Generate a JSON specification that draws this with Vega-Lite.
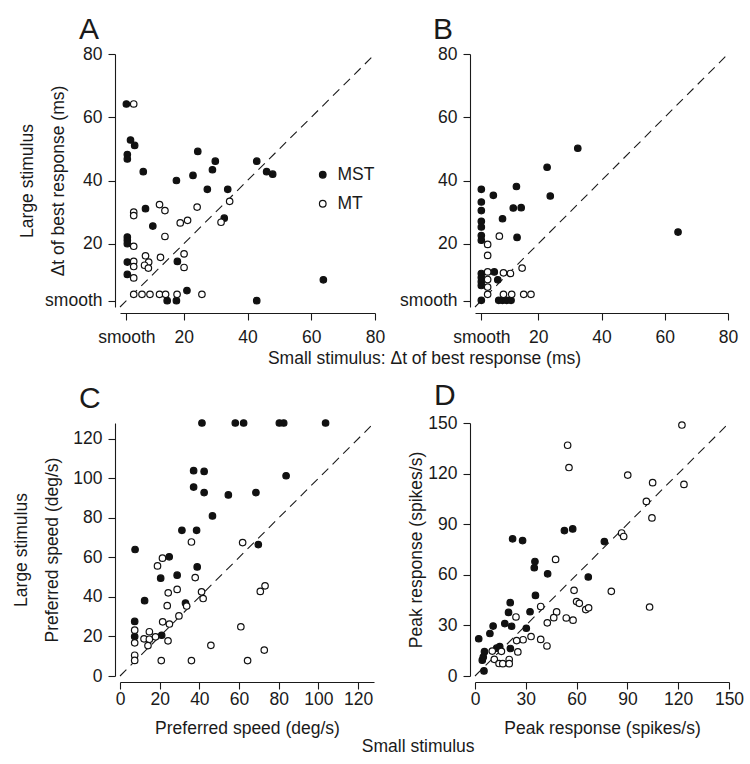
{
  "$schema": "https://vega.github.io/schema/vega-lite/v6.json",
  "padding": {"left": 12, "top": 15, "right": 5, "bottom": 5},
  "background": "white",
  "config": {
    "font": "Liberation Sans",
    "view": {"stroke": null},
    "axis": {"grid": false, "domainColor": "#1a1a1a", "tickColor": "#1a1a1a", "labelColor": "#1a1a1a", "titleColor": "#1a1a1a", "labelFontSize": 17.5, "titleFontSize": 17.5, "titleFontWeight": "normal", "tickSize": 7, "labelPadding": 4, "domainWidth": 1.1, "tickWidth": 1.1, "labelOverlap": false, "labelBound": false, "labelFlush": false},
    "axisX": {"offset": 6},
    "axisY": {"offset": 5, "labelPadding": 6},
    "title": {"fontWeight": "normal", "color": "#1a1a1a"},
    "legend": {"labelFontSize": 17.5, "labelColor": "#1a1a1a"}
  },
  "datasets": {
    "A": [
      {"area": "MST", "small": 2.0, "large": 64.2}, {"area": "MST", "small": 3.3, "large": 52.8}, {"area": "MST", "small": 4.6, "large": 51.1},
      {"area": "MST", "small": 2.3, "large": 48.2}, {"area": "MST", "small": 2.3, "large": 46.8}, {"area": "MST", "small": 7.3, "large": 42.8},
      {"area": "MST", "small": 17.7, "large": 40.0}, {"area": "MST", "small": 24.4, "large": 49.2}, {"area": "MST", "small": 29.9, "large": 46.1},
      {"area": "MST", "small": 29.0, "large": 43.4}, {"area": "MST", "small": 22.9, "large": 41.6}, {"area": "MST", "small": 42.9, "large": 46.1},
      {"area": "MST", "small": 46.0, "large": 42.8}, {"area": "MST", "small": 47.9, "large": 42.0}, {"area": "MST", "small": 27.4, "large": 37.2},
      {"area": "MST", "small": 33.8, "large": 37.2}, {"area": "MST", "small": 8.0, "large": 31.1}, {"area": "MST", "small": 10.3, "large": 25.6},
      {"area": "MST", "small": 32.7, "large": 28.1}, {"area": "MST", "small": 2.3, "large": 22.1}, {"area": "MST", "small": 2.3, "large": 21.1},
      {"area": "MST", "small": 2.3, "large": 20.0}, {"area": "MST", "small": 2.3, "large": 14.2}, {"area": "MST", "small": 2.3, "large": 10.3},
      {"area": "MST", "small": 18.0, "large": 14.4}, {"area": "MST", "small": 21.0, "large": 5.2}, {"area": "MST", "small": 14.8, "large": 2.0},
      {"area": "MST", "small": 17.7, "large": 2.0}, {"area": "MST", "small": 42.9, "large": 2.0}, {"area": "MST", "small": 63.8, "large": 8.6},
      {"area": "MT", "small": 4.3, "large": 64.2}, {"area": "MT", "small": 4.3, "large": 30.0}, {"area": "MT", "small": 4.3, "large": 28.9},
      {"area": "MT", "small": 12.4, "large": 32.4}, {"area": "MT", "small": 14.1, "large": 30.5}, {"area": "MT", "small": 24.2, "large": 31.6},
      {"area": "MT", "small": 34.4, "large": 33.4}, {"area": "MT", "small": 18.9, "large": 26.6}, {"area": "MT", "small": 21.2, "large": 27.4},
      {"area": "MT", "small": 31.7, "large": 26.8}, {"area": "MT", "small": 14.1, "large": 22.3}, {"area": "MT", "small": 4.3, "large": 19.2},
      {"area": "MT", "small": 4.3, "large": 14.4}, {"area": "MT", "small": 4.3, "large": 12.8}, {"area": "MT", "small": 4.3, "large": 9.2},
      {"area": "MT", "small": 8.0, "large": 16.2}, {"area": "MT", "small": 9.0, "large": 14.2}, {"area": "MT", "small": 7.7, "large": 13.2},
      {"area": "MT", "small": 8.9, "large": 12.3}, {"area": "MT", "small": 12.7, "large": 15.7}, {"area": "MT", "small": 20.1, "large": 16.8},
      {"area": "MT", "small": 20.1, "large": 12.5}, {"area": "MT", "small": 4.3, "large": 4.0}, {"area": "MT", "small": 6.9, "large": 4.0},
      {"area": "MT", "small": 9.4, "large": 4.0}, {"area": "MT", "small": 12.4, "large": 4.0}, {"area": "MT", "small": 14.3, "large": 4.0},
      {"area": "MT", "small": 17.9, "large": 4.0}, {"area": "MT", "small": 25.7, "large": 4.0}
    ],
    "B": [
      {"area": "MST", "small": 2.0, "large": 37.2}, {"area": "MST", "small": 2.0, "large": 33.2}, {"area": "MST", "small": 2.0, "large": 30.5},
      {"area": "MST", "small": 2.0, "large": 27.1}, {"area": "MST", "small": 2.0, "large": 25.3}, {"area": "MST", "small": 2.0, "large": 22.6},
      {"area": "MST", "small": 2.0, "large": 21.1}, {"area": "MST", "small": 5.8, "large": 35.3}, {"area": "MST", "small": 13.1, "large": 38.1},
      {"area": "MST", "small": 8.7, "large": 27.9}, {"area": "MST", "small": 12.1, "large": 31.3}, {"area": "MST", "small": 14.6, "large": 31.4},
      {"area": "MST", "small": 13.3, "large": 22.0}, {"area": "MST", "small": 22.8, "large": 44.2}, {"area": "MST", "small": 23.8, "large": 35.1},
      {"area": "MST", "small": 32.5, "large": 50.2}, {"area": "MST", "small": 64.2, "large": 23.7}, {"area": "MST", "small": 2.0, "large": 10.6},
      {"area": "MST", "small": 2.0, "large": 9.3}, {"area": "MST", "small": 2.0, "large": 8.0}, {"area": "MST", "small": 2.0, "large": 6.8},
      {"area": "MST", "small": 6.1, "large": 11.1}, {"area": "MST", "small": 7.2, "large": 8.6}, {"area": "MST", "small": 2.0, "large": 2.1},
      {"area": "MST", "small": 7.5, "large": 2.1}, {"area": "MST", "small": 8.7, "large": 2.1}, {"area": "MST", "small": 10.0, "large": 2.1},
      {"area": "MST", "small": 11.4, "large": 2.1},
      {"area": "MT", "small": 7.7, "large": 22.4}, {"area": "MT", "small": 4.0, "large": 19.8}, {"area": "MT", "small": 4.0, "large": 16.3},
      {"area": "MT", "small": 14.9, "large": 12.3}, {"area": "MT", "small": 9.0, "large": 10.8}, {"area": "MT", "small": 11.2, "large": 10.6},
      {"area": "MT", "small": 4.0, "large": 11.1}, {"area": "MT", "small": 4.0, "large": 8.7}, {"area": "MT", "small": 4.0, "large": 6.3},
      {"area": "MT", "small": 4.0, "large": 4.0}, {"area": "MT", "small": 9.0, "large": 4.0}, {"area": "MT", "small": 11.6, "large": 4.0},
      {"area": "MT", "small": 15.4, "large": 4.0}, {"area": "MT", "small": 17.7, "large": 4.0}
    ],
    "C": [
      {"area": "MST", "small": 41.3, "large": 128}, {"area": "MST", "small": 58.1, "large": 128}, {"area": "MST", "small": 62.3, "large": 128},
      {"area": "MST", "small": 80.3, "large": 128}, {"area": "MST", "small": 82.5, "large": 128}, {"area": "MST", "small": 103.6, "large": 128},
      {"area": "MST", "small": 37.1, "large": 103.9}, {"area": "MST", "small": 42.4, "large": 103.5}, {"area": "MST", "small": 37.1, "large": 95.6},
      {"area": "MST", "small": 42.4, "large": 92.8}, {"area": "MST", "small": 54.6, "large": 91.6}, {"area": "MST", "small": 68.5, "large": 92.8},
      {"area": "MST", "small": 83.7, "large": 101.3}, {"area": "MST", "small": 46.6, "large": 81.0}, {"area": "MST", "small": 31.2, "large": 73.7},
      {"area": "MST", "small": 38.6, "large": 73.7}, {"area": "MST", "small": 7.6, "large": 64.0}, {"area": "MST", "small": 24.8, "large": 60.3},
      {"area": "MST", "small": 38.9, "large": 55.2}, {"area": "MST", "small": 28.8, "large": 51.0}, {"area": "MST", "small": 20.5, "large": 49.5},
      {"area": "MST", "small": 69.7, "large": 66.5}, {"area": "MST", "small": 12.4, "large": 38.1}, {"area": "MST", "small": 33.0, "large": 36.9},
      {"area": "MST", "small": 7.4, "large": 27.6}, {"area": "MST", "small": 7.4, "large": 20.0}, {"area": "MST", "small": 21.0, "large": 20.6},
      {"area": "MT", "small": 36.0, "large": 67.8}, {"area": "MT", "small": 61.8, "large": 67.5}, {"area": "MT", "small": 21.4, "large": 59.6},
      {"area": "MT", "small": 18.9, "large": 55.7}, {"area": "MT", "small": 37.9, "large": 49.8}, {"area": "MT", "small": 24.3, "large": 42.1},
      {"area": "MT", "small": 28.8, "large": 43.8}, {"area": "MT", "small": 41.1, "large": 42.6}, {"area": "MT", "small": 41.9, "large": 39.2},
      {"area": "MT", "small": 70.7, "large": 42.8}, {"area": "MT", "small": 73.1, "large": 45.6}, {"area": "MT", "small": 23.8, "large": 35.6},
      {"area": "MT", "small": 33.6, "large": 35.4}, {"area": "MT", "small": 29.7, "large": 30.4}, {"area": "MT", "small": 21.5, "large": 27.4},
      {"area": "MT", "small": 24.9, "large": 26.3}, {"area": "MT", "small": 60.9, "large": 24.9}, {"area": "MT", "small": 7.4, "large": 23.2},
      {"area": "MT", "small": 14.8, "large": 22.4}, {"area": "MT", "small": 12.1, "large": 18.8}, {"area": "MT", "small": 14.8, "large": 18.6},
      {"area": "MT", "small": 17.9, "large": 19.8}, {"area": "MT", "small": 7.4, "large": 16.8}, {"area": "MT", "small": 14.1, "large": 15.4},
      {"area": "MT", "small": 24.2, "large": 17.8}, {"area": "MT", "small": 45.8, "large": 15.5}, {"area": "MT", "small": 72.7, "large": 13.1},
      {"area": "MT", "small": 7.4, "large": 10.5}, {"area": "MT", "small": 7.4, "large": 7.9}, {"area": "MT", "small": 20.8, "large": 7.8},
      {"area": "MT", "small": 36.0, "large": 7.8}, {"area": "MT", "small": 64.3, "large": 7.8}
    ],
    "D": [
      {"area": "MST", "small": 22.2, "large": 81.3}, {"area": "MST", "small": 28.1, "large": 80.3}, {"area": "MST", "small": 52.8, "large": 86.2},
      {"area": "MST", "small": 57.7, "large": 87.2}, {"area": "MST", "small": 76.4, "large": 79.7}, {"area": "MST", "small": 35.4, "large": 67.9},
      {"area": "MST", "small": 35.0, "large": 64.2}, {"area": "MST", "small": 42.9, "large": 60.6}, {"area": "MST", "small": 66.9, "large": 58.7},
      {"area": "MST", "small": 35.7, "large": 47.8}, {"area": "MST", "small": 20.8, "large": 43.5}, {"area": "MST", "small": 19.8, "large": 37.7},
      {"area": "MST", "small": 32.5, "large": 38.1}, {"area": "MST", "small": 10.7, "large": 29.6}, {"area": "MST", "small": 17.6, "large": 31.1},
      {"area": "MST", "small": 21.6, "large": 29.5}, {"area": "MST", "small": 8.8, "large": 25.2}, {"area": "MST", "small": 30.3, "large": 28.3},
      {"area": "MST", "small": 2.2, "large": 22.1}, {"area": "MST", "small": 5.6, "large": 14.4}, {"area": "MST", "small": 4.3, "large": 9.4},
      {"area": "MST", "small": 4.9, "large": 11.2}, {"area": "MST", "small": 12.8, "large": 16.5}, {"area": "MST", "small": 14.6, "large": 17.4},
      {"area": "MST", "small": 20.9, "large": 16.3}, {"area": "MST", "small": 5.3, "large": 3.0},
      {"area": "MT", "small": 54.7, "large": 136.8}, {"area": "MT", "small": 55.5, "large": 123.6}, {"area": "MT", "small": 122.2, "large": 148.8},
      {"area": "MT", "small": 90.2, "large": 119.1}, {"area": "MT", "small": 104.9, "large": 114.6}, {"area": "MT", "small": 123.4, "large": 113.6},
      {"area": "MT", "small": 101.2, "large": 103.5}, {"area": "MT", "small": 104.5, "large": 93.7}, {"area": "MT", "small": 86.6, "large": 84.8},
      {"area": "MT", "small": 87.8, "large": 82.7}, {"area": "MT", "small": 47.6, "large": 69.1}, {"area": "MT", "small": 58.5, "large": 50.8},
      {"area": "MT", "small": 80.5, "large": 50.2}, {"area": "MT", "small": 60.0, "large": 44.1}, {"area": "MT", "small": 61.6, "large": 43.1},
      {"area": "MT", "small": 65.4, "large": 39.4}, {"area": "MT", "small": 67.1, "large": 40.4}, {"area": "MT", "small": 38.8, "large": 41.2},
      {"area": "MT", "small": 24.2, "large": 35.0}, {"area": "MT", "small": 48.2, "large": 38.0}, {"area": "MT", "small": 46.5, "large": 34.6},
      {"area": "MT", "small": 53.9, "large": 34.4}, {"area": "MT", "small": 57.9, "large": 33.1}, {"area": "MT", "small": 103.1, "large": 40.9},
      {"area": "MT", "small": 42.7, "large": 31.5}, {"area": "MT", "small": 33.1, "large": 23.4}, {"area": "MT", "small": 38.8, "large": 21.7},
      {"area": "MT", "small": 42.5, "large": 17.8}, {"area": "MT", "small": 28.4, "large": 21.5}, {"area": "MT", "small": 24.6, "large": 21.0},
      {"area": "MT", "small": 25.3, "large": 14.3}, {"area": "MT", "small": 10.2, "large": 14.8}, {"area": "MT", "small": 15.6, "large": 14.6},
      {"area": "MT", "small": 11.4, "large": 9.9}, {"area": "MT", "small": 14.2, "large": 7.4}, {"area": "MT", "small": 16.4, "large": 7.3},
      {"area": "MT", "small": 20.2, "large": 9.8}, {"area": "MT", "small": 20.2, "large": 7.3}
    ]
  },
  "title": {"text": "Small stimulus", "orient": "bottom", "anchor": "middle", "fontSize": 17.5, "offset": 1, "dx": 40},
  "columns": 2,
  "bounds": "flush",
  "spacing": {"row": 116, "column": 100},
  "resolve": {"scale": {"fill": "independent"}, "legend": {"fill": "independent"}},
  "concat": [
    {
      "width": 255, "height": 253,
      "title": {"text": "A", "anchor": "start", "frame": "group", "dx": -41, "fontSize": 30, "offset": 0},
      "layer": [
        {"data": {"values": [{"lo": 0, "hi": 80}]},
         "mark": {"type": "rule", "strokeDash": [9, 6], "strokeWidth": 1.1, "color": "#1a1a1a"},
         "encoding": {"x": {"field": "lo", "type": "quantitative"}, "y": {"field": "lo", "type": "quantitative"}, "x2": {"field": "hi"}, "y2": {"field": "hi"}}},
        {"data": {"name": "A"},
         "mark": {"type": "point", "shape": "circle", "filled": true, "stroke": "#111", "strokeWidth": 1.2, "size": 42, "opacity": 1},
         "encoding": {
           "x": {"field": "small", "type": "quantitative", "scale": {"domain": [0, 80], "nice": false, "zero": false},
                 "axis": {"values": [2, 20, 40, 60, 80], "labelExpr": "datum.value == 2 ? 'smooth' : datum.label", "title": "Small stimulus: Δt of best response (ms)", "titleX": 304, "labelPadding": 8, "titlePadding": 4}},
           "y": {"field": "large", "type": "quantitative", "scale": {"domain": [0, 80], "nice": false, "zero": false},
                 "axis": {"values": [2, 20, 40, 60, 80], "labelExpr": "datum.value == 2 ? 'smooth' : datum.label", "title": ["Large stimulus", "Δt of best response (ms)"], "titlePadding": -23, "titleLineHeight": 31}},
           "fill": {"field": "area", "type": "nominal", "scale": {"domain": ["MST", "MT"], "range": ["#111", "white"]},
                    "legend": {"title": null, "orient": "none", "legendX": 194, "legendY": 112, "symbolType": "circle", "symbolSize": 44, "symbolStrokeColor": "#111", "symbolStrokeWidth": 1.2, "rowPadding": 10, "labelOffset": 6, "padding": 0}}
         }},
        {"mark": {"type": "text", "fontSize": 17.5, "baseline": "middle", "dy": -8, "color": "#1a1a1a"},
         "encoding": {"x": {"datum": 40}, "y": {"datum": 80}, "text": {"value": "16 deg/s"}}}
      ]
    },
    {
      "width": 253, "height": 253,
      "title": {"text": "B", "anchor": "start", "frame": "group", "dx": -42, "fontSize": 30, "offset": 0},
      "layer": [
        {"data": {"values": [{"lo": 0, "hi": 80}]},
         "mark": {"type": "rule", "strokeDash": [9, 6], "strokeWidth": 1.1, "color": "#1a1a1a"},
         "encoding": {"x": {"field": "lo", "type": "quantitative"}, "y": {"field": "lo", "type": "quantitative"}, "x2": {"field": "hi"}, "y2": {"field": "hi"}}},
        {"data": {"name": "B"},
         "mark": {"type": "point", "shape": "circle", "filled": true, "stroke": "#111", "strokeWidth": 1.2, "size": 42, "opacity": 1},
         "encoding": {
           "x": {"field": "small", "type": "quantitative", "scale": {"domain": [0, 80], "nice": false, "zero": false},
                 "axis": {"values": [2, 20, 40, 60, 80], "labelExpr": "datum.value == 2 ? 'smooth' : datum.label", "title": null, "labelPadding": 8}},
           "y": {"field": "large", "type": "quantitative", "scale": {"domain": [0, 80], "nice": false, "zero": false},
                 "axis": {"values": [2, 20, 40, 60, 80], "labelExpr": "datum.value == 2 ? 'smooth' : datum.label", "title": null}},
           "fill": {"field": "area", "type": "nominal", "scale": {"domain": ["MST", "MT"], "range": ["#111", "white"]}, "legend": null}
         }},
        {"mark": {"type": "text", "fontSize": 17.5, "baseline": "middle", "dy": -8, "color": "#1a1a1a"},
         "encoding": {"x": {"datum": 40}, "y": {"datum": 80}, "text": {"value": "32 deg/s"}}}
      ]
    },
    {
      "width": 254, "height": 253,
      "title": {"text": "C", "anchor": "start", "frame": "group", "dx": -41, "fontSize": 30, "offset": 3},
      "layer": [
        {"data": {"values": [{"lo": 0, "hi": 128}]},
         "mark": {"type": "rule", "strokeDash": [9, 6], "strokeWidth": 1.1, "color": "#1a1a1a"},
         "encoding": {"x": {"field": "lo", "type": "quantitative"}, "y": {"field": "lo", "type": "quantitative"}, "x2": {"field": "hi"}, "y2": {"field": "hi"}}},
        {"data": {"name": "C"},
         "mark": {"type": "point", "shape": "circle", "filled": true, "stroke": "#111", "strokeWidth": 1.2, "size": 42, "opacity": 1},
         "encoding": {
           "x": {"field": "small", "type": "quantitative", "scale": {"domain": [0, 128], "nice": false, "zero": false},
                 "axis": {"values": [0, 20, 40, 60, 80, 100, 120], "title": "Preferred speed (deg/s)", "labelPadding": 1, "titlePadding": 12}},
           "y": {"field": "large", "type": "quantitative", "scale": {"domain": [0, 128], "nice": false, "zero": false},
                 "axis": {"values": [0, 20, 40, 60, 80, 100, 120], "title": ["Large stimulus", "Preferred speed (deg/s)"], "titlePadding": 11, "titleLineHeight": 31}},
           "fill": {"field": "area", "type": "nominal", "scale": {"domain": ["MST", "MT"], "range": ["#111", "white"]}, "legend": null}
         }}
      ]
    },
    {
      "width": 254, "height": 253,
      "title": {"text": "D", "anchor": "start", "frame": "group", "dx": -41, "fontSize": 30, "offset": 3},
      "layer": [
        {"data": {"values": [{"lo": 0, "hi": 150}]},
         "mark": {"type": "rule", "strokeDash": [9, 6], "strokeWidth": 1.1, "color": "#1a1a1a"},
         "encoding": {"x": {"field": "lo", "type": "quantitative"}, "y": {"field": "lo", "type": "quantitative"}, "x2": {"field": "hi"}, "y2": {"field": "hi"}}},
        {"data": {"name": "D"},
         "mark": {"type": "point", "shape": "circle", "filled": true, "stroke": "#111", "strokeWidth": 1.2, "size": 42, "opacity": 1},
         "encoding": {
           "x": {"field": "small", "type": "quantitative", "scale": {"domain": [0, 150], "nice": false, "zero": false},
                 "axis": {"values": [0, 30, 60, 90, 120, 150], "title": "Peak response (spikes/s)", "labelPadding": 1, "titlePadding": 12}},
           "y": {"field": "large", "type": "quantitative", "scale": {"domain": [0, 150], "nice": false, "zero": false},
                 "axis": {"values": [0, 30, 60, 90, 120, 150], "title": "Peak response (spikes/s)", "titlePadding": 2}},
           "fill": {"field": "area", "type": "nominal", "scale": {"domain": ["MST", "MT"], "range": ["#111", "white"]}, "legend": null}
         }}
      ]
    }
  ]
}
